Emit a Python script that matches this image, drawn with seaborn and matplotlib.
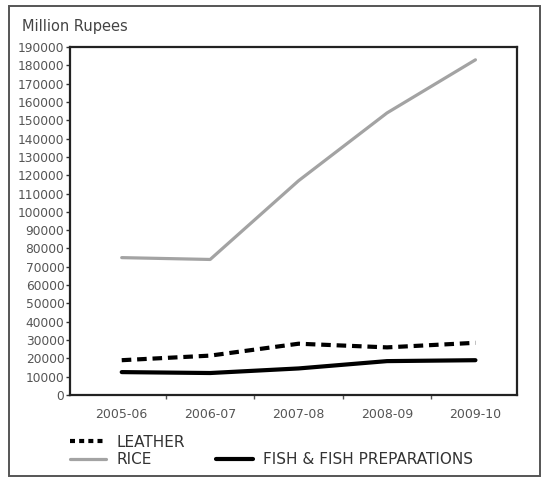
import numpy as np
import pandas as pd
import matplotlib.pyplot as plt
from matplotlib.lines import Line2D
from matplotlib.patches import Rectangle
import seaborn as sns

# data (million rupees)
years = ["2005-06", "2006-07", "2007-08", "2008-09", "2009-10"]
rice = [75000, 74000, 117000, 154000, 183000]
leather = [19000, 21500, 28000, 26000, 28500]
fish = [12500, 12000, 14500, 18500, 19000]

sns.set_theme(style="white")
plt.rcParams["font.family"] = ["DejaVu Sans"]

df = pd.DataFrame({"Year": years, "RICE": rice, "LEATHER": leather,
                   "FISH & FISH PREPARATIONS": fish})

fig = plt.figure(figsize=(5.44, 4.78), dpi=100)
ax = fig.add_axes([70 / 544, 1 - 395 / 478, 447 / 544, 348 / 478])

sns.lineplot(data=df, x="Year", y="RICE", ax=ax, color="#a3a3a3", lw=2.3)
sns.lineplot(data=df, x="Year", y="LEATHER", ax=ax, color="black", lw=3.0)
sns.lineplot(data=df, x="Year", y="FISH & FISH PREPARATIONS", ax=ax,
             color="black", lw=3.0)
ax.lines[1].set_dashes([2.3, 1.4])

ax.set_xlim(-0.585, 4.47)
ax.set_ylim(0, 190000)
ax.set_yticks(np.arange(0, 190001, 10000))
ax.set_yticklabels([str(v) for v in range(0, 190001, 10000)])
ax.set_xticks(range(len(years)))
ax.set_xticklabels(years)
ax.set_xticks(np.arange(0.5, len(years) - 1, 1), minor=True)
ax.tick_params(axis="x", which="major", length=0, pad=9, labelsize=9,
               labelcolor="#555555")
ax.tick_params(axis="x", which="minor", bottom=True, length=3, width=1,
               color="#555555")
ax.tick_params(axis="y", left=True, length=3, width=1, pad=1,
               labelsize=8.8, labelcolor="#555555", color="#333333")
ax.set_xlabel("")
ax.set_ylabel("")
for s in ax.spines.values():
    s.set_color("#222222")
    s.set_linewidth(1.6)

fig.text(22 / 544, 1 - 26 / 478, "Million Rupees", fontsize=10.5,
         color="#444444", va="center")

# outer frame
fig.patches.append(Rectangle((9 / 544, 2 / 478), 531 / 544, 470 / 478,
                             transform=fig.transFigure, fill=False,
                             edgecolor="#555555", lw=1.4))

handles = [Line2D([], [], color="black", lw=3.0, dashes=[1.2, 1.0]),
           Line2D([], [], color="#a3a3a3", lw=2.3),
           Line2D([], [], color="none"),
           Line2D([], [], color="black", lw=3.0)]
labels = ["LEATHER", "RICE", "", "FISH & FISH PREPARATIONS"]
fig.legend(handles, labels, ncol=2, frameon=False, loc="upper left",
           bbox_to_anchor=(62 / 544, 1 - 427 / 478), fontsize=11,
           labelcolor="#333333", handlelength=2.4, handletextpad=0.7,
           columnspacing=2.0, labelspacing=0.15, borderpad=0)

fig.savefig("out.png", dpi=100)
